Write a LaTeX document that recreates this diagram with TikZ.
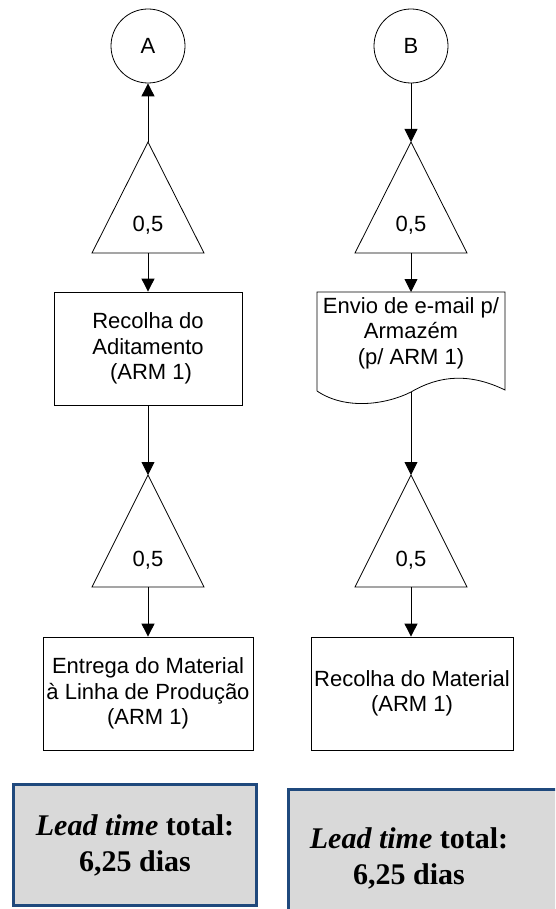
\documentclass[tikz,border=0pt]{standalone}
\usepackage{fontspec}
\setmainfont{Liberation Sans}
\newfontfamily\timesfont{Liberation Serif}
\usetikzlibrary{arrows.meta}
\definecolor{framblue}{RGB}{31,73,125}
\definecolor{boxgray}{RGB}{217,217,217}
\tikzset{
  flow/.style={line width=0.9pt, -{Triangle[length=13pt,width=13pt]}},
  proc/.style={draw, line width=0.8pt, align=center, font=\fontsize{22}{25.5}\selectfont, inner sep=0pt},
  conn/.style={draw, circle, line width=0.8pt, minimum size=74pt, inner sep=0pt, font=\fontsize{22}{25}\selectfont},
  tri/.style={draw, line width=0.8pt, line join=miter},
  trilabel/.style={font=\fontsize{22}{25}\selectfont, inner sep=0pt},
  totaltext/.style={align=center, inner sep=0pt,
    font=\timesfont\fontsize{30}{36}\selectfont\bfseries},
  total/.style={draw=framblue, fill=boxgray, line width=3pt, totaltext}
}
\begin{document}
\begin{tikzpicture}[x=1pt,y=-1pt]
\useasboundingbox (0,0) rectangle (555,909);
\clip (0,0) rectangle (555,909);

% ---- left column ----
\node[conn] (A) at (148,46) {A};

\coordinate (t1top) at (148,142);
\coordinate (t1bot) at (148,253);
\draw[tri] (t1top) -- (204,253) -- (92,253) -- cycle;
\node[trilabel] (t1lab) at (148,225) {0,5};

\node[proc, minimum width=188pt, minimum height=113pt] (recAdit) at (148,348.5)
  {Recolha do\\Aditamento\\\ (ARM 1)};

\coordinate (t2top) at (148,475);
\coordinate (t2bot) at (148,587);
\draw[tri] (t2top) -- (204,587) -- (92,587) -- cycle;
\node[trilabel] (t2lab) at (148,560) {0,5};

\node[proc, minimum width=210pt, minimum height=113pt] (entrega) at (148,693.5)
  {Entrega do Material\\à Linha de Produção\\(ARM 1)};

\draw[flow] (t1top) -- (A.south);
\draw[flow] (t1bot) -- (recAdit.north);
\draw[flow] (recAdit.south) -- (t2top);
\draw[flow] (t2bot) -- (entrega.north);

% ---- right column ----
\node[conn] (B) at (411,46) {B};

\coordinate (t3top) at (411,142);
\coordinate (t3bot) at (411,253);
\draw[tri] (t3top) -- (467,253) -- (355,253) -- cycle;
\node[trilabel] (t3lab) at (411,225) {0,5};

% document shape with wavy bottom edge
\coordinate (docTop) at (411,292);
\coordinate (docBot) at (411,392);
\draw[line width=0.8pt] (317,391) -- (317,292) -- (505,292) -- (505,390)
  .. controls (470,373) and (440,375) .. (docBot)
  .. controls (385,405) and (345,410) .. (317,391);
\node[proc, draw=none] (email) at (411,333)
  {Envio de e-mail p/\\Armazém\\(p/ ARM 1)};

\coordinate (t4top) at (411,475);
\coordinate (t4bot) at (411,587);
\draw[tri] (t4top) -- (467,587) -- (355,587) -- cycle;
\node[trilabel] (t4lab) at (411,560) {0,5};

\node[proc, minimum width=202pt, minimum height=113pt] (recMat) at (412,693.5)
  {Recolha do Material\\(ARM 1)};

\draw[flow] (B.south) -- (t3top);
\draw[flow] (t3bot) -- (docTop);
\draw[flow] (docBot) -- (t4top);
\draw[flow] (t4bot) -- (t4bot |- recMat.north);

% ---- totals ----
\node[total, minimum width=243pt, minimum height=121pt] (totA) at (135,845)
  {\itshape Lead time\/ \upshape total:\\6,25 dias};
\node[total, minimum width=300pt, minimum height=160pt] (totB) at (438.5,869.5) {};
\node[totaltext] (totBtxt) at (409,858)
  {\itshape Lead time\/ \upshape total:\\6,25 dias};
\end{tikzpicture}
\end{document}
